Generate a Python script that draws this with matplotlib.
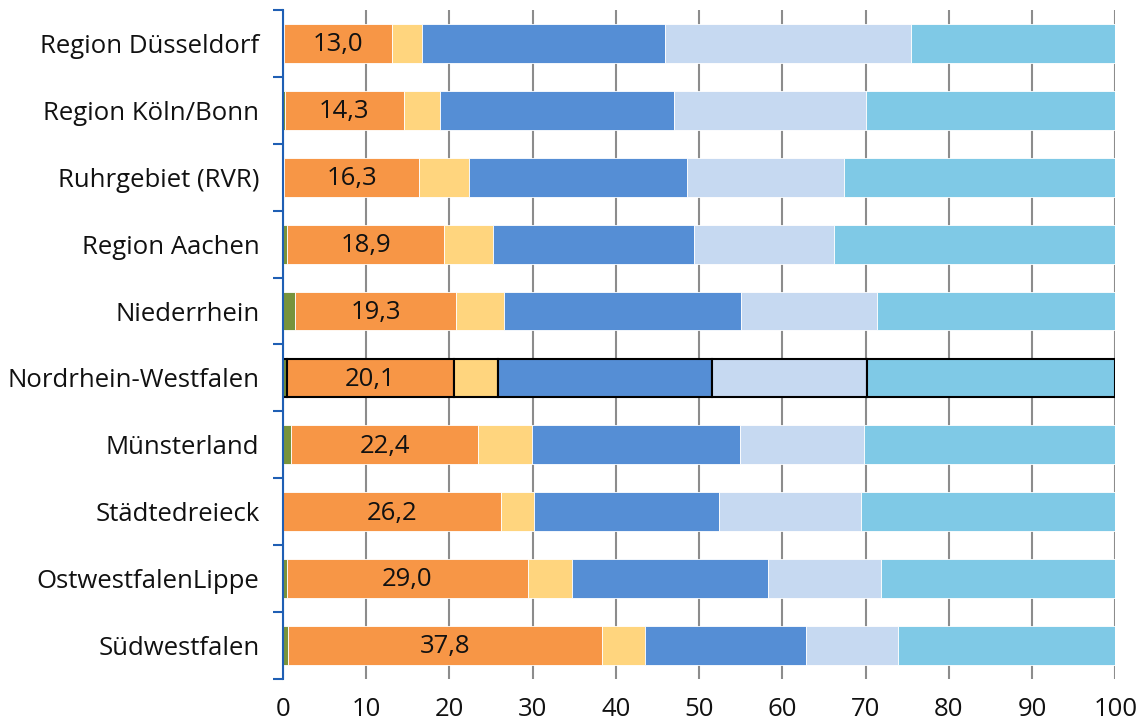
import matplotlib
matplotlib.use("Agg")
import matplotlib.pyplot as plt
import numpy as np

plt.rcParams['font.family'] = ['Open Sans', 'DejaVu Sans']

regions = ["Region Düsseldorf", "Region Köln/Bonn", "Ruhrgebiet (RVR)", "Region Aachen",
           "Niederrhein", "Nordrhein-Westfalen", "Münsterland", "Städtedreieck",
           "OstwestfalenLippe", "Südwestfalen"]
green = [0.15, 0.2, 0.1, 0.5, 1.5, 0.45, 1.0, 0.0, 0.45, 0.55]
orange = [13.0, 14.3, 16.3, 18.9, 19.3, 20.1, 22.4, 26.2, 29.0, 37.8]
yellow = [3.6, 4.4, 5.9, 5.85, 5.8, 5.3, 6.5, 4.0, 5.3, 5.1]
blue = [29.2, 28.1, 26.25, 24.15, 28.4, 25.7, 25.05, 22.2, 23.5, 19.4]
lightblue = [29.5, 23.0, 18.9, 16.8, 16.4, 18.6, 14.9, 17.1, 13.6, 11.1]
cyan = [24.55, 30.0, 32.55, 33.8, 28.6, 29.85, 30.15, 30.5, 28.15, 26.05]
labels = ["13,0", "14,3", "16,3", "18,9", "19,3", "20,1", "22,4", "26,2", "29,0", "37,8"]
xticks = [0, 10, 20, 30, 40, 50, 60, 70, 80, 90, 100]

series = [green, orange, yellow, blue, lightblue, cyan]
colors = ["#77933C", "#F79646", "#FFD57E", "#558ED5", "#C6D9F1", "#7FC9E6"]

FS = 18.5

fig = plt.figure(figsize=(11.37, 7.24), dpi=100)
ax = fig.add_axes([283/1137, 1-679/724, (1115.3-283)/1137, (679-10)/724])

y = np.arange(len(regions))
hl = regions.index("Nordrhein-Westfalen")
left = np.zeros(len(regions))
for k, (vals, col) in enumerate(zip(series, colors)):
    vals = np.array(vals)
    ec = ["black" if i == hl else "white" for i in range(len(regions))]
    lw = [1.5 if i == hl else 0.6 for i in range(len(regions))]
    ax.barh(y, vals, left=left, height=0.58, color=col, edgecolor=ec, linewidth=lw, zorder=3)
    if k == 1:
        for i in range(len(regions)):
            ax.text(left[i] + vals[i] / 2, y[i] + 0.02, labels[i], ha="center", va="center",
                    fontsize=FS, color="#111111", zorder=5)
    left = left + vals

ax.set_xlim(0, 100)
ax.set_ylim(len(regions) - 0.5, -0.5)
ax.set_xticks(xticks)
ax.set_xticklabels([str(t) for t in xticks], fontsize=FS, color="#111111")
ax.tick_params(axis="x", length=0, pad=13)
ax.set_yticks(y)
ax.set_yticklabels(regions, fontsize=FS, color="#111111")
ax.tick_params(axis="y", which="major", length=0, pad=17)
ax.set_yticks(np.arange(-0.5, len(regions), 1.0), minor=True)
ax.tick_params(axis="y", which="minor", length=7, width=1.5, color="#1F5FB4", direction="out")
ax.grid(axis="x", color="#8C8C8C", linewidth=1.5, zorder=0)
for s in ["top", "right", "bottom"]:
    ax.spines[s].set_visible(False)
ax.spines["left"].set_color("#1F5FB4")
ax.spines["left"].set_linewidth(1.5)
ax.spines["left"].set_zorder(6)

fig.savefig("out.png", dpi=100)
